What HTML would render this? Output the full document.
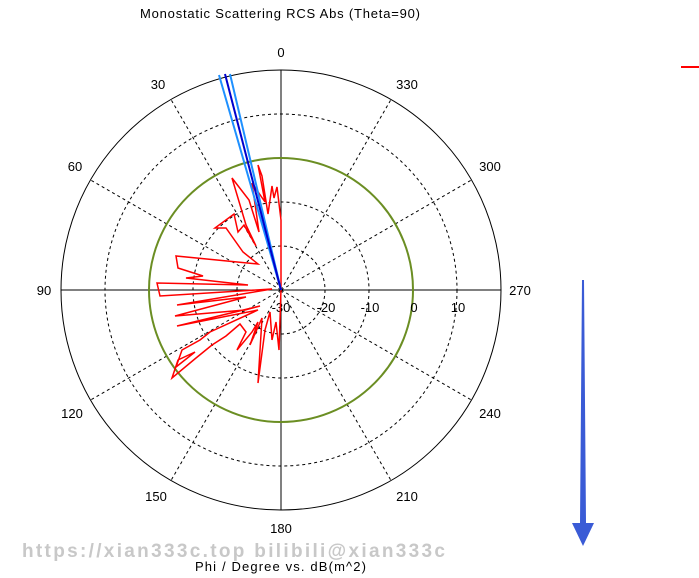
<!DOCTYPE html>
<html><head><style>body{margin:0;background:#fff}svg{display:block;font-family:"Liberation Sans",sans-serif}</style></head>
<body>
<svg width="699" height="578" viewBox="0 0 699 578">
<text x="140" y="18" font-size="13" textLength="280">Monostatic Scattering RCS Abs (Theta=90)</text>
<g fill="none" stroke="#000">
<circle cx="281" cy="290" r="220" stroke-width="1"/>
<g stroke-dasharray="3,3">
<circle cx="281" cy="290" r="44"/><circle cx="281" cy="290" r="88"/><circle cx="281" cy="290" r="176"/>
<line x1="281" y1="290" x2="391" y2="99.5"/><line x1="281" y1="290" x2="171" y2="99.5"/>
<line x1="281" y1="290" x2="471.5" y2="180"/><line x1="281" y1="290" x2="90.5" y2="180"/>
<line x1="281" y1="290" x2="471.5" y2="400"/><line x1="281" y1="290" x2="90.5" y2="400"/>
<line x1="281" y1="290" x2="391" y2="480.5"/><line x1="281" y1="290" x2="171" y2="480.5"/>
</g>
<line x1="281" y1="70" x2="281" y2="510"/><line x1="61" y1="290" x2="501" y2="290"/>
</g>
<circle cx="281" cy="290" r="132" fill="none" stroke="#6b8e23" stroke-width="2"/>
<g font-size="13" text-anchor="middle">
<text x="281" y="57">0</text><text x="407" y="89">330</text><text x="490" y="171">300</text><text x="520" y="295">270</text>
<text x="490" y="418">240</text><text x="407" y="501">210</text><text x="281" y="533">180</text><text x="156" y="501">150</text>
<text x="72" y="418">120</text><text x="44" y="295">90</text><text x="75" y="171">60</text><text x="158" y="89">30</text>
<text x="281" y="312">-30</text><text x="326" y="312">-20</text><text x="370" y="312">-10</text><text x="414" y="312">0</text><text x="458" y="312">10</text>
</g>
<polyline fill="none" stroke="#f00" stroke-width="1.5" points="281,289 281,220 277,187 274,198 272,186 268,214 262,176 258,165 265,202 252,183 259,232 249,200 232,178 246,225 256,246 244,225 238,232 234,214 215,228 226,228 243,252 258,264 176,256 178,268 203,276 186,278 248,285 157,283 160,296 240,291 272,289 177,305 246,297 175,316 245,310 260,306 177,326 258,310 210,332 200,340 182,350 176,367 195,352 178,360 172,378 196,358 212,345 226,336 240,324 246,332 237,350 252,332 258,322 250,345 262,318 258,383 265,330 270,312 272,340 276,322 279,350 281,289"/>
<g stroke-width="2" fill="none">
<line x1="281" y1="290" x2="219" y2="75" stroke="#1e90ff"/>
<line x1="281" y1="290" x2="230" y2="74" stroke="#1e90ff"/>
<line x1="281" y1="290" x2="225" y2="74" stroke="#0000cd"/>
</g>
<line x1="681" y1="67" x2="699" y2="67" stroke="#f00" stroke-width="2"/>
<polygon points="582,280 584,280 586,523 594,523 583,546 572,523 580,523" fill="#3a5bd6"/>
<text x="22" y="557" font-size="19" font-weight="bold" fill="#c8c8c8" textLength="423">https://xian333c.top bilibili@xian333c</text>
<text x="195" y="571" font-size="13" textLength="171">Phi / Degree vs. dB(m^2)</text>
</svg>
</body></html>
